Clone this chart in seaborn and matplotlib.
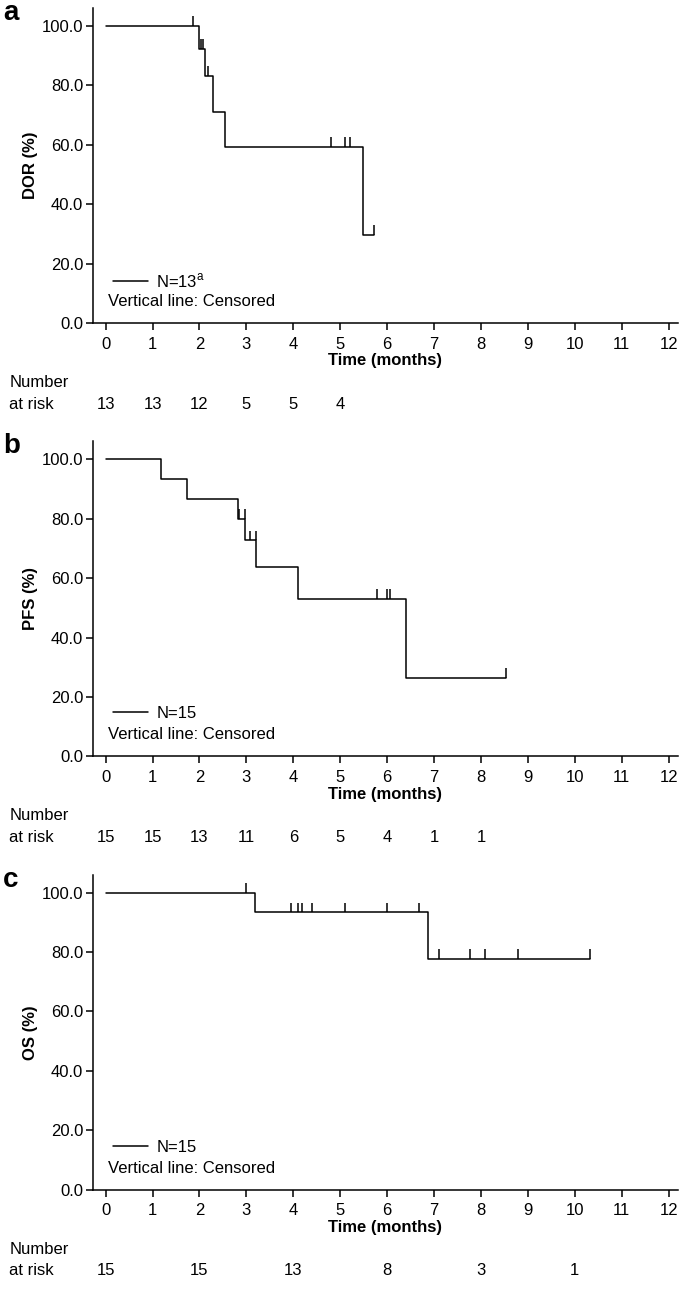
import matplotlib
matplotlib.use('Agg')
import matplotlib.pyplot as plt
from matplotlib.lines import Line2D
import seaborn as sns
import numpy as np
import pandas as pd

### Data
############################################################################

# a) duration of response
dor_times = [0, 2.00, 2.12, 2.29, 2.55, 5.49, 5.73]
dor_surv = [100.0, 92.3, 83.1, 71.2, 59.3, 29.7, 29.7]
dor_cens = [1.86, 2.04, 2.08, 2.18, 4.81, 5.10, 5.20, 5.73]
dor_risk_t = [0, 1, 2, 3, 4, 5]
dor_risk = [13, 13, 12, 5, 5, 4]

# b) progression-free survival
pfs_times = [0, 1.17, 1.74, 2.82, 2.97, 3.20, 4.11, 6.41, 8.53]
pfs_surv = [100.0, 93.3, 86.7, 80.0, 72.7, 63.6, 53.0, 26.5, 26.5]
pfs_cens = [2.85, 2.97, 3.08, 3.20, 5.79, 6.00, 6.07, 8.53]
pfs_risk_t = [0, 1, 2, 3, 4, 5, 6, 7, 8]
pfs_risk = [15, 15, 13, 11, 6, 5, 4, 1, 1]

# c) overall survival
os_times = [0, 3.18, 6.88, 10.33]
os_surv = [100.0, 93.3, 77.8, 77.8]
os_cens = [2.99, 3.96, 4.11, 4.18, 4.39, 5.11, 6.00, 6.68, 7.11, 7.77, 8.09, 8.78, 10.33]
os_risk_t = [0, 2, 4, 6, 8, 10]
os_risk = [15, 15, 13, 8, 3, 1]

panels = [
	('a', 'DOR (%)', 'N=13$^\\mathregular{a}$', dor_times, dor_surv, dor_cens, dor_risk_t, dor_risk),
	('b', 'PFS (%)', 'N=15', pfs_times, pfs_surv, pfs_cens, pfs_risk_t, pfs_risk),
	('c', 'OS (%)', 'N=15', os_times, os_surv, os_cens, os_risk_t, os_risk),
]

### Style
############################################################################
sns.set_style('ticks')
plt.rcParams['font.family'] = ['Liberation Sans', 'DejaVu Sans']
plt.rcParams['mathtext.fontset'] = 'custom'
plt.rcParams['mathtext.rm'] = 'Liberation Sans'
for k in ['text.color', 'axes.labelcolor', 'xtick.color', 'ytick.color', 'axes.edgecolor']:
	plt.rcParams[k] = 'black'
plt.rcParams['axes.linewidth'] = 1.1
plt.rcParams['xtick.major.width'] = 1.1
plt.rcParams['ytick.major.width'] = 1.1
plt.rcParams['xtick.major.size'] = 5
plt.rcParams['ytick.major.size'] = 5
fs = 12

W, H = 681, 1299
fig = plt.figure(figsize=(W / 100, H / 100), dpi=100)

for i, (letter, ylab, nlab, times, surv, cens, risk_t, risk) in enumerate(panels):
	off = i * 433.3
	bottom_px = 323 + off
	top_px = 323 - 106 * 2.97 + off
	ax = fig.add_axes([93 / W, 1 - bottom_px / H, 585 / W, (bottom_px - top_px) / H])

	df = pd.DataFrame({'time': times, 'surv': surv})
	sns.lineplot(data=df, x='time', y='surv', drawstyle='steps-post', color='black',
				 lw=1.1, estimator=None, ax=ax, legend=False)

	# censor marks: short upward strokes at the curve level
	idx = np.searchsorted(np.array(times), np.array(cens), side='left') - 1
	lev = np.array(surv)[idx]
	ax.vlines(cens, lev, lev + 3.3, color='black', lw=1.1)

	ax.set_xlim(-0.27, 12.2)
	ax.set_ylim(0, 106)
	ax.set_xticks(range(0, 13))
	ax.set_yticks(range(0, 101, 20))
	ax.set_yticklabels([f'{v:.1f}' for v in range(0, 101, 20)])
	ax.tick_params(axis='x', labelsize=fs, pad=5)
	ax.tick_params(axis='y', labelsize=fs, pad=2)
	sns.despine(ax=ax)
	ax.set_xlabel('Time (months)', fontsize=fs, fontweight='bold', labelpad=1)
	ax.set_ylabel(ylab, fontsize=fs, fontweight='bold', labelpad=3)

	# legend + note
	h = Line2D([], [], color='black', lw=1.1)
	ax.legend([h], [nlab], loc='center left', bbox_to_anchor=(0.034, 0.135), frameon=False,
			  borderpad=0, borderaxespad=0, handlelength=2.1, handletextpad=0.5, fontsize=fs)
	ax.text(0.05, 7.2, 'Vertical line: Censored', fontsize=fs, ha='left', va='center')

	# number at risk
	ax.text(-2.05, -20.0, 'Number', fontsize=fs, ha='left', va='center', clip_on=False)
	ax.text(-2.05, -27.4, 'at risk', fontsize=fs, ha='left', va='center', clip_on=False)
	for t, n in zip(risk_t, risk):
		ax.text(t, -27.4, str(n), fontsize=fs, ha='center', va='center', clip_on=False)

	fig.text(3 / W, 1 - (13 + off) / H, letter, fontsize=20, fontweight='bold',
			 ha='left', va='center')

fig.savefig('out.png', dpi=100)
